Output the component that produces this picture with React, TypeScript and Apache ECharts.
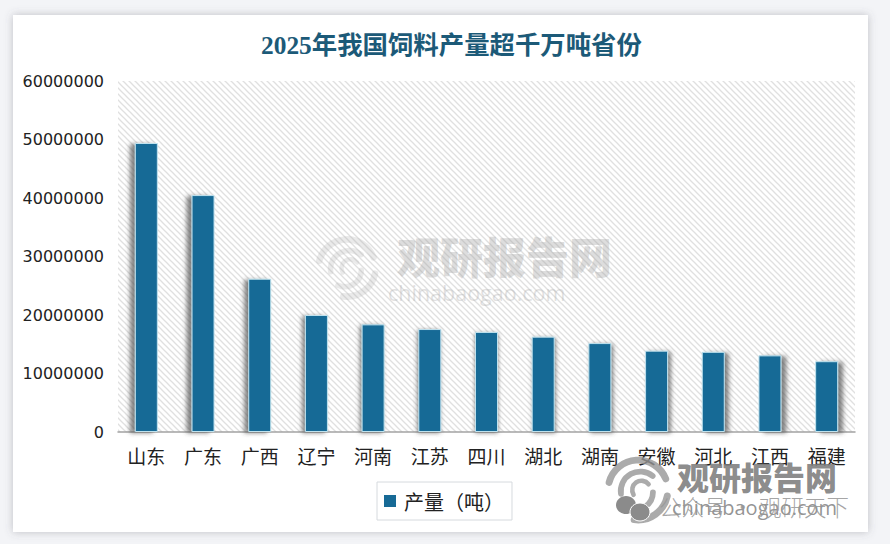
import React, { useEffect, useRef } from "react";
import * as echarts from "echarts";

const titleText = "2025年我国饲料产量超千万吨省份";
const seriesName = "产量（吨）";
const categories = ["山东", "广东", "广西", "辽宁", "河南", "江苏", "四川", "湖北", "湖南", "安徽", "河北", "江西", "福建"];
const values = [49400000, 40500000, 26200000, 20000000, 18400000, 17600000, 17100000, 16300000, 15200000, 13900000, 13700000, 13100000, 12100000];
const shadowOffsets = [-5, -5, -4, -3, -2, -1, 0, 1, 2, 3, 4, 5, 5];
const axisFont = "DejaVu Sans";
const cjkFont = "'Noto Sans CJK SC'";
const barColor = "#176a96";

function hatchTile() {
  const c = document.createElement("canvas");
  c.width = 6;
  c.height = 6;
  const g = c.getContext("2d")!;
  g.fillStyle = "#ffffff";
  g.fillRect(0, 0, 6, 6);
  g.strokeStyle = "#e0e0e0";
  g.lineWidth = 1.3;
  for (const d of [-6, 0, 6]) {
    g.beginPath();
    g.moveTo(d - 1, -1);
    g.lineTo(d + 7, 7);
    g.stroke();
  }
  return c;
}

function logo(cx: number, cy: number, s: number, color: string, z: number) {
  const arc = (r: number, a: number, b: number, w: number, dx = 0, dy = 0) => ({
    type: "arc",
    z,
    silent: true,
    shape: { cx: cx + dx * s, cy: cy + dy * s, r: r * s, startAngle: a, endAngle: b },
    style: { stroke: color, fill: "none", lineWidth: w * s, lineCap: "round" },
  });
  return [
    arc(26, 3.4, 5.9, 6),
    arc(26, 0.2, 1.7, 6),
    arc(17, 3.0, 5.4, 5, 2, 1),
    arc(15, 0.0, 2.0, 5, -2, 2),
    arc(8, 2.6, 5.6, 4, 3, 0),
  ];
}

export default function App() {
  const ref = useRef<HTMLDivElement>(null);
  useEffect(() => {
    document.body.style.margin = "0";
    const chart = echarts.init(ref.current!, undefined, { renderer: "svg", width: 890, height: 544 });
    chart.setOption({
      animation: false,
      backgroundColor: "#f3f4f7",
      title: {
        text: titleText,
        left: 261,
        top: 30,
        padding: 0,
        textStyle: {
          fontFamily: `'Liberation Serif', ${cjkFont}`,
          fontSize: 25.4,
          fontWeight: 600,
          color: "#1c5a78",
          lineHeight: 30,
        },
      },
      grid: {
        show: true,
        left: 118,
        top: 81,
        width: 737,
        height: 351,
        borderWidth: 0,
        backgroundColor: { image: hatchTile(), repeat: "repeat", imageWidth: 6, imageHeight: 6 },
      },
      legend: {
        left: 377,
        top: 482,
        padding: [9, 8, 9, 7],
        itemWidth: 12,
        itemHeight: 12,
        itemGap: 0,
        icon: "rect",
        borderColor: "#d6dade",
        borderWidth: 1,
        textStyle: { fontFamily: cjkFont, fontSize: 20, color: "#222", padding: [0, 0, 0, 3] },
        data: [seriesName],
      },
      xAxis: {
        type: "category",
        data: categories,
        axisTick: { show: false },
        axisLine: { lineStyle: { color: "#a3a3a3", width: 1.5 } },
        axisLabel: { fontFamily: cjkFont, fontSize: 19, color: "#222", margin: 14, interval: 0 },
      },
      yAxis: {
        type: "value",
        min: 0,
        max: 60000000,
        interval: 10000000,
        axisLine: { show: false },
        axisTick: { show: false },
        splitLine: { show: false },
        axisLabel: { fontFamily: axisFont, fontSize: 16, color: "#222", margin: 14, formatter: (v: number) => String(v) },
      },
      series: [
        {
          name: seriesName,
          type: "bar",
          barWidth: 23,
          itemStyle: { color: barColor },
          data: values.map((value, i) => ({
            value,
            itemStyle: {
              color: barColor,
              borderColor: "#bfe2ee",
              borderWidth: 1,
              shadowColor: "rgba(70,70,70,0.65)",
              shadowBlur: 4,
              shadowOffsetX: shadowOffsets[i],
              shadowOffsetY: 1,
            },
          })),
        },
      ],
      graphic: {
        elements: [
          {
            type: "rect",
            z: -10,
            silent: true,
            shape: { x: 13, y: 15, width: 855, height: 517 },
            style: { fill: "#ffffff", shadowColor: "rgba(90,90,100,0.35)", shadowBlur: 8, shadowOffsetX: 0, shadowOffsetY: 0 },
          },
          ...logo(347, 268, 1.1, "rgba(175,175,175,0.26)", 1),
          {
            type: "text",
            z: 1,
            silent: true,
            x: 397,
            y: 233,
            style: { text: "观研报告网", font: `900 43px ${cjkFont}`, fill: "rgba(165,165,165,0.38)" },
          },
          {
            type: "text",
            z: 1,
            silent: true,
            x: 388,
            y: 281,
            style: { text: "chinabaogao.com", font: "21.5px 'Open Sans'", fill: "rgba(175,175,175,0.38)" },
          },
          ...logo(638, 490, 1.15, "rgba(150,150,150,0.8)", 10),
          {
            type: "text",
            z: 10,
            silent: true,
            x: 677,
            y: 460,
            style: { text: "观研报告网", font: `900 32px ${cjkFont}`, fill: "rgba(125,125,125,0.9)" },
          },
          {
            type: "text",
            z: 10,
            silent: true,
            x: 672,
            y: 497,
            style: { text: "chinabaogao.com", font: "20px 'Open Sans'", fill: "rgba(120,120,120,0.8)" },
          },
          { type: "ellipse", z: 11, silent: true, shape: { cx: 626, cy: 505, rx: 10, ry: 9 }, style: { fill: "#8b8b8b" } },
          { type: "ellipse", z: 11, silent: true, shape: { cx: 640, cy: 512, rx: 10, ry: 9 }, style: { fill: "#8b8b8b", stroke: "#ffffff", lineWidth: 1 } },
          {
            type: "text",
            z: 11,
            silent: true,
            x: 659,
            y: 495,
            style: { text: "公众号 · 观研天下", font: `300 22.5px ${cjkFont}`, fill: "rgba(150,150,150,0.85)" },
          },
        ],
      },
    });
    return () => chart.dispose();
  }, []);
  return <div ref={ref} style={{ width: 890, height: 544 }} />;
}
